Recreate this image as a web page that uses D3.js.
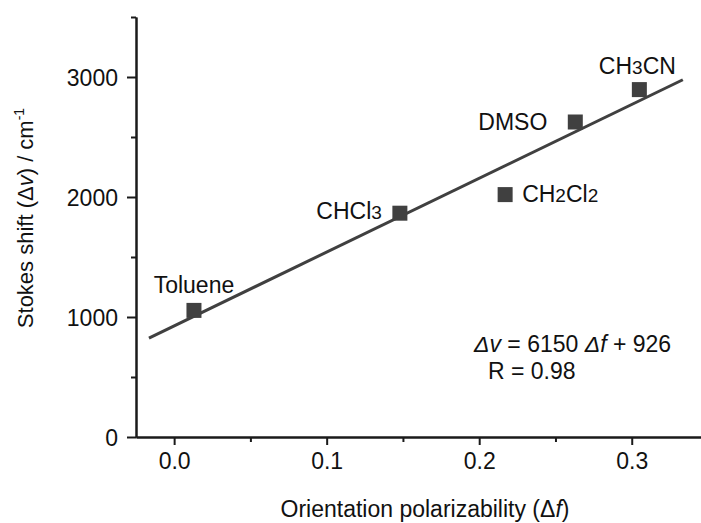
<!DOCTYPE html>
<html>
<head>
<meta charset="utf-8">
<script src="https://cdn.jsdelivr.net/npm/d3@7/dist/d3.min.js"></script>
<style>
  body { margin: 0; background: #fff; }
  svg { display: block; font-family: "Liberation Sans", Arial, sans-serif; }
</style>
</head>
<body>
<div id="chart"></div>
<script>
// data
var solvents = ["Toluene", "CHCl3", "CH2Cl2", "DMSO", "CH3CN"];
var deltaF   = [0.013, 0.148, 0.217, 0.263, 0.305];
var shift    = [1055, 1865, 2020, 2625, 2895];
var fitSlope = 6150, fitIntercept = 926;
var fitRange = [-0.0165, 0.3335];
var xTicks = [0.0, 0.1, 0.2, 0.3];
var xMinor = [0.05, 0.15, 0.25];
var yTicks = [0, 1000, 2000, 3000];
var yMinor = [500, 1500, 2500, 3500];

// label placement next to each point: [anchor, dx, dy]
var labelPos = {
  "Toluene": ["middle", 0, -17],
  "CHCl3":   ["end", -18, 6],
  "CH2Cl2":  ["start", 17, 7],
  "DMSO":    ["end", -28, 8],
  "CH3CN":   ["middle", -2, -16]
};

var W = 701, H = 523;
var ink = "#404040";
var fs = "23px";

var svg = d3.select("#chart").append("svg")
    .attr("width", W)
    .attr("height", H);

var x = d3.scaleLinear().domain([-0.025, 0.35]).range([136, 708]);
var y = d3.scaleLinear().domain([0, 3500]).range([437, 17]);

// axes
svg.append("g")
    .attr("transform", "translate(0," + y(0) + ")")
    .call(d3.axisBottom(x).tickValues(xTicks).tickFormat(d3.format(".1f"))
      .tickSize(8).tickSizeOuter(0).tickPadding(8));
svg.append("g")
    .attr("transform", "translate(0," + y(0) + ")")
    .call(d3.axisBottom(x).tickValues(xMinor).tickFormat("").tickSize(5).tickSizeOuter(0));

var yAxis = svg.append("g")
    .attr("transform", "translate(" + x(-0.025) + ",0)")
    .call(d3.axisLeft(y).tickValues(yTicks).tickFormat(d3.format("d"))
      .tickSize(9).tickSizeOuter(0).tickPadding(9));
svg.append("g")
    .attr("transform", "translate(" + x(-0.025) + ",0)")
    .call(d3.axisLeft(y).tickValues(yMinor).tickFormat("").tickSize(5).tickSizeOuter(0));

svg.selectAll(".domain, .tick line")
    .attr("stroke", "#1a1a1a")
    .attr("stroke-width", 2);
svg.selectAll(".tick text")
    .attr("fill", "#111")
    .style("font-size", fs);
yAxis.selectAll(".tick text").attr("dy", "0.36em");

// fitted line
svg.append("path")
    .datum(fitRange)
    .attr("fill", "none")
    .attr("stroke", ink)
    .attr("stroke-width", 3)
    .attr("d", d3.line()
      .x(function (d) { return x(d); })
      .y(function (d) { return y(fitSlope * d + fitIntercept); }));

// points
var pts = solvents.map(function (s, i) { return { name: s, f: deltaF[i], v: shift[i] }; });
var sq = 15;
svg.selectAll("rect.pt")
    .data(pts)
    .enter().append("rect")
    .attr("class", "pt")
    .attr("x", function (d) { return x(d.f) - sq / 2; })
    .attr("y", function (d) { return y(d.v) - sq / 2; })
    .attr("width", sq)
    .attr("height", sq)
    .attr("fill", ink);

// point labels, digits drawn a bit smaller
var labels = svg.selectAll("text.lab")
    .data(pts)
    .enter().append("text")
    .attr("class", "lab")
    .attr("x", function (d) { return x(d.f) + labelPos[d.name][1]; })
    .attr("y", function (d) { return y(d.v) + labelPos[d.name][2]; })
    .attr("text-anchor", function (d) { return labelPos[d.name][0]; })
    .attr("fill", "#111")
    .style("font-size", fs);
labels.each(function (d) {
  var t = d3.select(this);
  d.name.split(/(\d)/).forEach(function (part) {
    if (!part) return;
    var sp = t.append("tspan").text(part);
    if (/\d/.test(part)) sp.style("font-size", "19px");
  });
});

// equation
var eq = svg.append("text")
    .attr("x", 474).attr("y", 352)
    .attr("fill", "#111")
    .style("font-size", fs);
eq.append("tspan").style("font-style", "italic").text("\u0394v");
eq.append("tspan").text(" = 6150 ");
eq.append("tspan").style("font-style", "italic").text("\u0394f");
eq.append("tspan").text(" + 926");

svg.append("text")
    .attr("x", 488).attr("y", 379)
    .attr("fill", "#111")
    .style("font-size", fs)
    .text("R = 0.98");

// axis titles
var xt = svg.append("text")
    .attr("x", 425).attr("y", 517)
    .attr("text-anchor", "middle")
    .attr("fill", "#111")
    .style("font-size", fs);
xt.append("tspan").text("Orientation polarizability (\u0394");
xt.append("tspan").style("font-style", "italic").text("f");
xt.append("tspan").text(")");

var yt = svg.append("text")
    .attr("transform", "translate(33,218) rotate(-90)")
    .attr("text-anchor", "middle")
    .attr("fill", "#111")
    .style("font-size", "22px");
yt.append("tspan").text("Stokes shift (\u0394");
yt.append("tspan").style("font-style", "italic").text("v");
yt.append("tspan").text(") / cm");
yt.append("tspan").attr("dy", "-9").style("font-size", "14px").text("-1");
</script>
</body>
</html>
